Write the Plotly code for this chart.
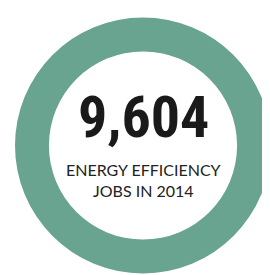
import plotly.graph_objects as go

# Data
labels = ["Energy efficiency jobs"]
values = [9604]
headline = "9,604"
caption_lines = ["ENERGY EFFICIENCY", "JOBS IN 2014"]

RING = "#68a48f"

fig = go.Figure(
    go.Pie(
        labels=labels,
        values=values,
        hole=0.735,
        sort=False,
        textinfo="none",
        hoverinfo="skip",
        marker=dict(colors=[RING], line=dict(width=0)),
        domain=dict(x=[7 / 270, 263 / 270], y=[8 / 275, 267 / 275]),
        showlegend=False,
    )
)

fig.add_annotation(
    text=f"<b>{headline}</b>",
    x=0.5, y=1 - 109 / 275, xref="paper", yref="paper",
    xanchor="center", yanchor="middle", showarrow=False,
    font=dict(family="Roboto Condensed, Open Sans Condensed, sans-serif", size=58, color="#1a1a1a"),
)
fig.add_annotation(
    text="<br>".join(caption_lines),
    x=0.5, y=1 - 172 / 275, xref="paper", yref="paper",
    xanchor="center", yanchor="middle", showarrow=False,
    font=dict(family="Lato, sans-serif", size=16, color="#222222"),
    align="center",
)

fig.update_layout(
    width=270, height=275,
    margin=dict(l=0, r=0, t=0, b=0),
    paper_bgcolor="white", plot_bgcolor="white",
)

fig.write_html("out.html")
